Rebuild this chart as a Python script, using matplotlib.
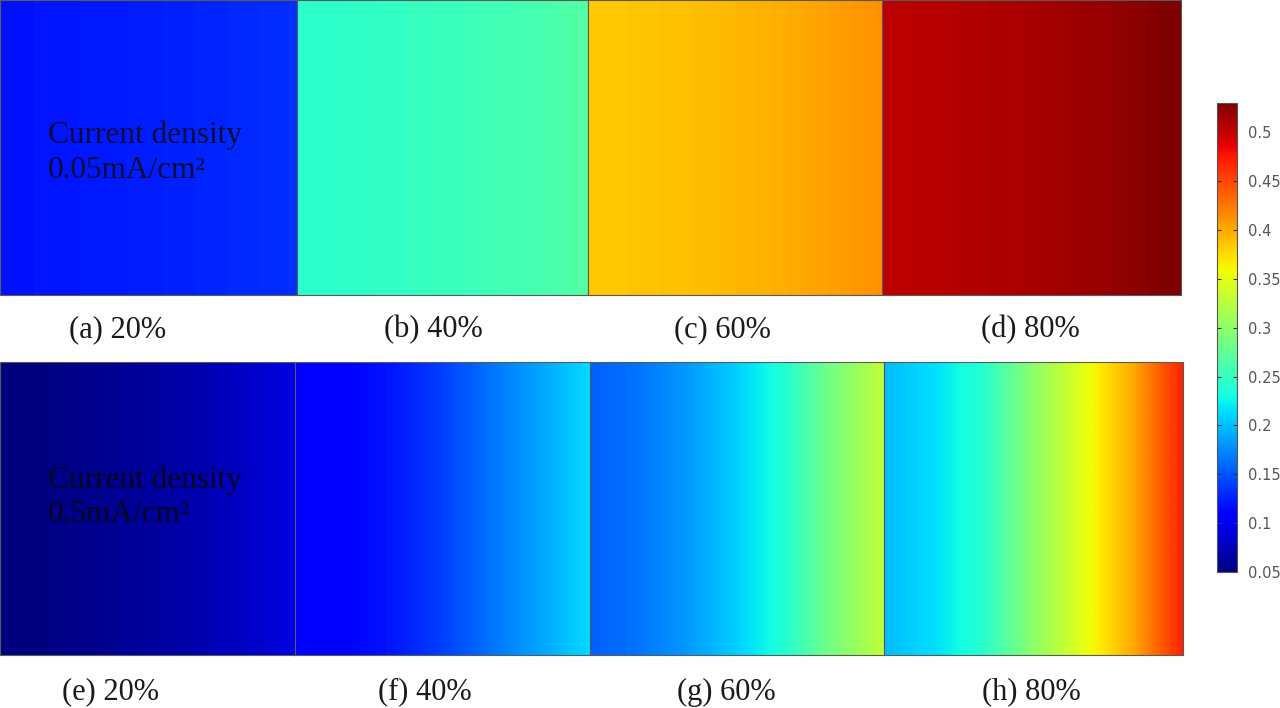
import numpy as np
import matplotlib
matplotlib.use('Agg')
import matplotlib.pyplot as plt
from matplotlib.cm import ScalarMappable
from matplotlib.colors import Normalize

# sampled values at 7 evenly spaced points, left edge -> right edge of each panel
vmin, vmax = 0.05, 0.53
panel_a = [0.118, 0.120, 0.122, 0.124, 0.127, 0.130, 0.133]
panel_b = [0.243, 0.245, 0.248, 0.251, 0.255, 0.260, 0.267]
panel_c = [0.384, 0.386, 0.389, 0.393, 0.398, 0.405, 0.413]
panel_d = [0.505, 0.506, 0.509, 0.512, 0.517, 0.523, 0.532]
panel_e = [0.048, 0.052, 0.057, 0.063, 0.070, 0.080, 0.092]
panel_f = [0.104, 0.110, 0.121, 0.140, 0.165, 0.188, 0.214]
panel_g = [0.155, 0.165, 0.183, 0.208, 0.240, 0.290, 0.330]
panel_h = [0.199, 0.215, 0.242, 0.300, 0.350, 0.400, 0.470]

labels = ['(a) 20%', '(b) 40%', '(c) 60%', '(d) 80%',
          '(e) 20%', '(f) 40%', '(g) 60%', '(h) 80%']
cbar_ticks = [0.05, 0.1, 0.15, 0.2, 0.25, 0.3, 0.35, 0.4, 0.45, 0.5]
density_top = ['Current density', '0.05mA/cm²']
density_bottom = ['Current density', '0.5mA/cm²']

W, H = 1280, 708
fig = plt.figure(figsize=(W / 100, H / 100), dpi=100)

def px_axes(x0, y0, x1, y1):
    # pixel box (top-left origin) -> figure axes
    return fig.add_axes([x0 / W, 1 - y1 / H, (x1 - x0) / W, (y1 - y0) / H])

boxes = [(0, 0, 297, 295), (297, 0, 588, 295), (588, 0, 882, 295), (882, 0, 1181, 295),
         (0, 362, 295, 655), (295, 362, 590, 655), (590, 362, 884, 655), (884, 362, 1183, 655)]
data = [panel_a, panel_b, panel_c, panel_d, panel_e, panel_f, panel_g, panel_h]

for box, vals in zip(boxes, data):
    ax = px_axes(*box)
    n = len(vals)
    half = 0.5 / (n - 1)
    # sample centres sit on the panel edges, library does the blending
    ax.imshow(np.array(vals)[np.newaxis, :], aspect='auto', cmap='jet',
              vmin=vmin, vmax=vmax, interpolation='bilinear',
              interpolation_stage='data', extent=(-half, 1 + half, 0, 1))
    ax.set_xlim(0, 1)
    ax.set_ylim(0, 1)
    ax.set_xticks([])
    ax.set_yticks([])
    for s in ax.spines.values():
        s.set_color('#5a5a5a')
        s.set_linewidth(0.8)

# panel captions
label_x = [118, 433, 722, 1030, 110, 425, 726, 1031]
label_y = [330, 330, 330, 330, 692, 692, 692, 692]
for t, x, y in zip(labels, label_x, label_y):
    fig.text(x / W, 1 - y / H, t, ha='center', va='center',
             fontsize=22, family='Liberation Serif', color='#1a1a1a')

# current density annotations
fig.text(48 / W, 1 - 135 / H, density_top[0], ha='left', va='center',
         fontsize=22.5, family='Liberation Serif', color='#0c0c35')
fig.text(48 / W, 1 - 170 / H, density_top[1], ha='left', va='center',
         fontsize=22.5, family='Liberation Serif', color='#0c0c35')
fig.text(48 / W, 1 - 480 / H, density_bottom[0], ha='left', va='center',
         fontsize=22.5, family='Liberation Serif', color='#06061e')
fig.text(48 / W, 1 - 515 / H, density_bottom[1], ha='left', va='center',
         fontsize=22.5, family='Liberation Serif', color='#06061e')

# colorbar
cax = px_axes(1217, 103, 1237, 572)
sm = ScalarMappable(norm=Normalize(vmin=vmin, vmax=vmax), cmap='jet')
cb = fig.colorbar(sm, cax=cax, ticks=cbar_ticks)
cb.ax.set_yticklabels(['{:g}'.format(t) for t in cbar_ticks])
cb.ax.tick_params(direction='in', length=3, width=0.8, left=True, right=True,
                  labelsize=10.5, labelcolor='#555555', color='#333333', pad=8)
cb.outline.set_edgecolor('#555555')
cb.outline.set_linewidth(0.8)

fig.savefig('out.png', dpi=100)
